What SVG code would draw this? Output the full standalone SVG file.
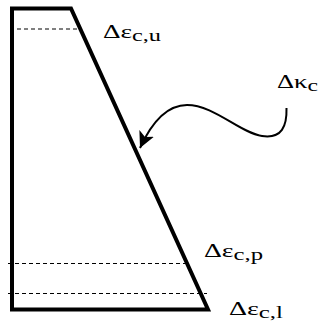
<svg xmlns="http://www.w3.org/2000/svg" width="322" height="325" viewBox="0 0 322 325">
<style>
.main{fill:none;stroke:#000;stroke-width:4;stroke-linejoin:miter}
.dash{fill:none;stroke:#000;stroke-width:1;stroke-dasharray:4 3}
.curve{fill:none;stroke:#000;stroke-width:2}
.lbl{font-family:"Liberation Serif","Times New Roman",serif;font-size:18px;fill:#000}
.sub{font-size:16px}
</style>
<defs>
<marker id="ah" markerUnits="userSpaceOnUse" markerWidth="18" markerHeight="16" viewBox="0 0 18 16" refX="16" refY="8" orient="auto">
<path d="M0,0 L16,8 L0,16 L4,8 Z" fill="#000"/>
</marker>
</defs>
<rect width="322" height="325" fill="#fff"/>
<g id="section">
<path class="main" d="M12,309.5 L12,8.5 L71,8.5 L208,309.5 Z"/>
</g>
<g id="dashes">
<line class="dash" x1="10" y1="29" x2="80" y2="29"/>
<line class="dash" x1="8" y1="263.5" x2="189" y2="263.5"/>
<line class="dash" x1="8" y1="293.5" x2="207" y2="293.5"/>
</g>
<g id="connectors">
<path class="curve" d="M286.5,108 C287,126 282,139 262,136 C240,133 214,105 187,105 C166,105 151,124 140,148" marker-end="url(#ah)"/>
</g>
<g id="labels">
<text class="lbl" x="103" y="38" textLength="58" lengthAdjust="spacingAndGlyphs">Δε<tspan class="sub" dy="3">c,u</tspan></text>
<text class="lbl" x="277" y="88" textLength="41" lengthAdjust="spacingAndGlyphs">Δκ<tspan class="sub" dy="3">c</tspan></text>
<text class="lbl" x="204" y="257" textLength="59" lengthAdjust="spacingAndGlyphs">Δε<tspan class="sub" dy="3">c,p</tspan></text>
<text class="lbl" x="229" y="315" textLength="54" lengthAdjust="spacingAndGlyphs">Δε<tspan class="sub" dy="3">c,l</tspan></text>
</g>
</svg>
